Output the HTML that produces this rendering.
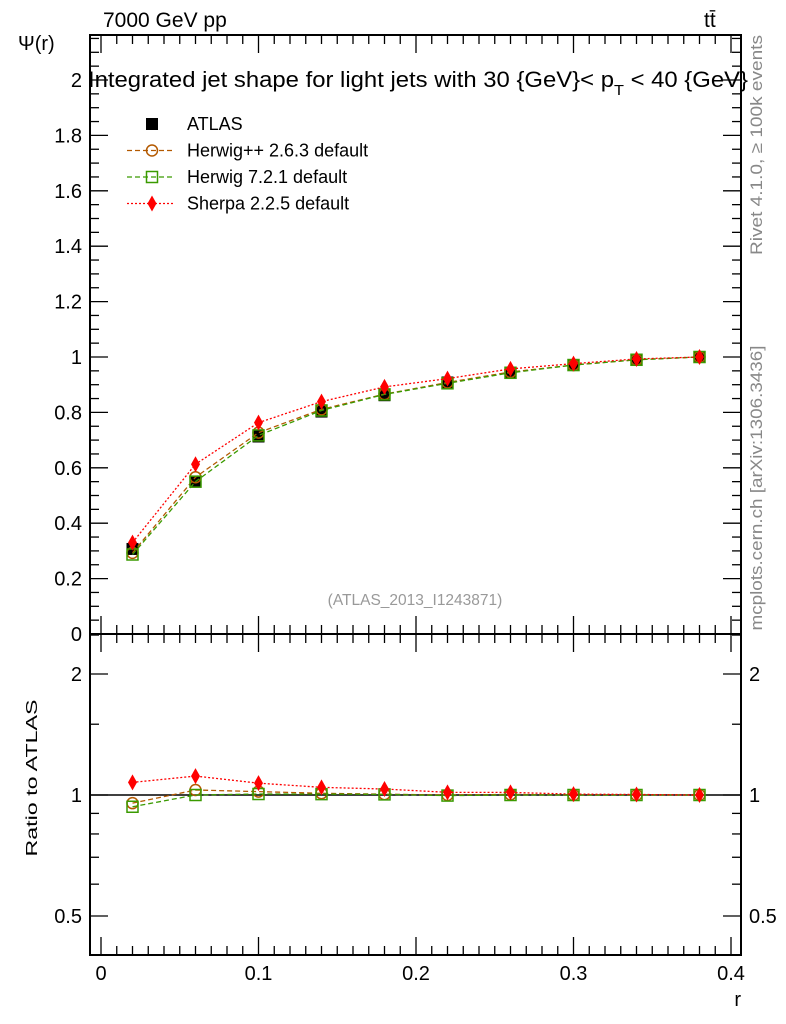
<!DOCTYPE html>
<html><head><meta charset="utf-8"><style>
body{margin:0;background:#fff}
svg{display:block;font-family:"Liberation Sans",sans-serif}
</style></head><body>
<svg id="chart" width="786" height="1024" viewBox="0 0 786 1024">
<g id="main"></g>
<g id="ratio"></g>
<text x="103" y="27" font-size="21">7000 GeV pp</text>
<text x="704" y="27" font-size="21">tt̄</text>
<text x="88" y="87" font-size="22" textLength="660" lengthAdjust="spacingAndGlyphs">Integrated jet shape for light jets with 30 {GeV}&lt; p<tspan font-size="15" dy="8">T</tspan><tspan dy="-8"> &lt; 40 {GeV}</tspan></text>
<text x="18" y="50" font-size="20">Ψ(r)</text>
<text x="37" y="778" font-size="16" text-anchor="middle" textLength="157" lengthAdjust="spacingAndGlyphs" transform="rotate(-90 37 778)">Ratio to ATLAS</text>
<text x="741" y="1006" font-size="20" text-anchor="end">r</text>
<text x="762" y="145" font-size="17" fill="#888" text-anchor="middle" textLength="220" lengthAdjust="spacingAndGlyphs" transform="rotate(-90 762 145)">Rivet 4.1.0, ≥ 100k events</text>
<text x="762" y="488" font-size="17" fill="#888" text-anchor="middle" textLength="285" lengthAdjust="spacingAndGlyphs" transform="rotate(-90 762 488)">mcplots.cern.ch [arXiv:1306.3436]</text>
<text x="415" y="605" font-size="15.5" fill="#999" text-anchor="middle">(ATLAS_2013_I1243871)</text>
<g id="legend"></g>
</svg>
<script>
const rVals=[0.02,0.06,0.10,0.14,0.18,0.22,0.26,0.30,0.34,0.38];
const atlas=[0.307,0.550,0.713,0.803,0.862,0.908,0.943,0.971,0.990,1.0];
const herwigpp=[0.293,0.566,0.727,0.811,0.866,0.908,0.946,0.971,0.990,1.0];
const herwig7=[0.287,0.550,0.717,0.807,0.865,0.905,0.943,0.971,0.990,1.0];
const sherpa=[0.330,0.613,0.763,0.839,0.892,0.922,0.957,0.976,0.993,1.0];
const xTicks=[0,0.1,0.2,0.3,0.4];
const yTicks=[0.2,0.4,0.6,0.8,1,1.2,1.4,1.6,1.8,2];
const ratioTicks=[0.5,1,2];

const NS="http://www.w3.org/2000/svg";
const L=90,R=741,T=35,MB=634,RB=955;
const X=v=>101+v*1575;
const Y=v=>634-v*277;
const YR=v=>795-Math.log2(v)*121;
function mk(p,tag,at){const e=document.createElementNS(NS,tag);for(const k in at)e.setAttribute(k,at[k]);p.appendChild(e);return e;}
const main=document.getElementById('main'),ratio=document.getElementById('ratio');

let f=mk(main,'rect',{x:L,y:T,width:R-L,height:MB-T,fill:'none',stroke:'#000','stroke-width':2});

f=mk(ratio,'rect',{x:L,y:MB,width:R-L,height:RB-MB,fill:'none',stroke:'#000','stroke-width':2});


for(let i=0;i<=40;i++){const v=i/100,x=X(v),big=i%10==0,len=big?18:9;
 [[T,1],[MB,-1],[MB,1],[RB,-1]].forEach(([y,d])=>{const t=mk(main,'line',{x1:x,x2:x,y1:y,y2:y+d*len,stroke:'#000','stroke-width':1.3});
 });}
xTicks.forEach(v=>{const t=mk(ratio,'text',{x:X(v),y:980,'font-size':20,'text-anchor':'middle'});t.textContent=String(v);
 });
for(let i=1;i<=43;i++){const v=i*0.05;const y=Y(v);if(y<T)break;const big=i%4==0,len=big?18:9;
 [[L,1],[R,-1]].forEach(([x,d])=>{const t=mk(main,'line',{x1:x,x2:x+d*len,y1:y,y2:y,stroke:'#000','stroke-width':1.3});
 });}
yTicks.forEach(v=>{const t=mk(main,'text',{x:82,y:Y(v)+7,'font-size':20,'text-anchor':'end'});t.textContent=String(v);
 });
let z=mk(main,'text',{x:82,y:641,'font-size':20,'text-anchor':'end'});z.textContent='0';

[0.4,0.5,0.6,0.7,0.8,0.9,1,1.5,2,2.5].forEach(v=>{const y=YR(v);const big=ratioTicks.includes(v),len=big?18:9;
 [[L,1],[R,-1]].forEach(([x,d])=>{const t=mk(ratio,'line',{x1:x,x2:x+d*len,y1:y,y2:y,stroke:'#000','stroke-width':1.3});
 });});
ratioTicks.forEach(v=>{[[82,'end'],[749,'start']].forEach(([x,a])=>{const t=mk(ratio,'text',{x:x,y:YR(v)+7,'font-size':20,'text-anchor':a});t.textContent=String(v);
 });});
const one=mk(ratio,'line',{x1:L,x2:R,y1:YR(1),y2:YR(1),stroke:'#000','stroke-width':1.5});


function marker(p,type,x,y,col){
 if(type=='sq') return mk(p,'rect',{x:x-6,y:y-6,width:12,height:12,fill:'#000'});
 if(type=='circ') return mk(p,'circle',{cx:x,cy:y,r:5.5,fill:'none',stroke:col,'stroke-width':1.5});
 if(type=='osq') return mk(p,'rect',{x:x-5.5,y:y-5.5,width:11,height:11,fill:'none',stroke:col,'stroke-width':1.5});
 return mk(p,'path',{d:`M${x} ${y-8}L${x+4.5} ${y}L${x} ${y+8}L${x-4.5} ${y}Z`,fill:col});
}
const series=[
 {name:'herwigpp',d:herwigpp,col:'#b35900',m:'circ',dash:'5,3'},
 {name:'herwig7',d:herwig7,col:'#3a9a00',m:'osq',dash:'5,3'},
 {name:'sherpa',d:sherpa,col:'#f00',m:'dia',dash:'2,2'}];
rVals.forEach((r,i)=>{const m=marker(main,'sq',X(r),Y(atlas[i]));
 });
series.forEach(s=>{
 const pl=mk(main,'polyline',{points:rVals.map((r,i)=>X(r)+','+Y(s.d[i])).join(' '),fill:'none',stroke:s.col,'stroke-width':1.3,'stroke-dasharray':s.dash});
 
 rVals.forEach((r,i)=>{const m=marker(main,s.m,X(r),Y(s.d[i]),s.col);
  });
 const rl=mk(ratio,'polyline',{points:rVals.map((r,i)=>X(r)+','+YR(s.d[i]/atlas[i])).join(' '),fill:'none',stroke:s.col,'stroke-width':1.3,'stroke-dasharray':s.dash});
 
 rVals.forEach((r,i)=>{const m=marker(ratio,s.m,X(r),YR(s.d[i]/atlas[i]),s.col);
  });
});
const lg=document.getElementById('legend');
const items=[['ATLAS','sq','#000',null],['Herwig++ 2.6.3 default','circ','#b35900','5,3'],['Herwig 7.2.1 default','osq','#3a9a00','5,3'],['Sherpa 2.2.5 default','dia','#f00','2,2']];
items.forEach((it,i)=>{const y=124+i*26.5;
 if(it[3]){const l=mk(lg,'line',{x1:127,x2:174,y1:y,y2:y,stroke:it[2],'stroke-width':1.2,'stroke-dasharray':it[3]});
  }
 const m=marker(lg,it[1],152,y,it[2]);
 const t=mk(lg,'text',{x:187,y:y+6,'font-size':18});t.textContent=it[0];
 });
</script>
</body></html>
